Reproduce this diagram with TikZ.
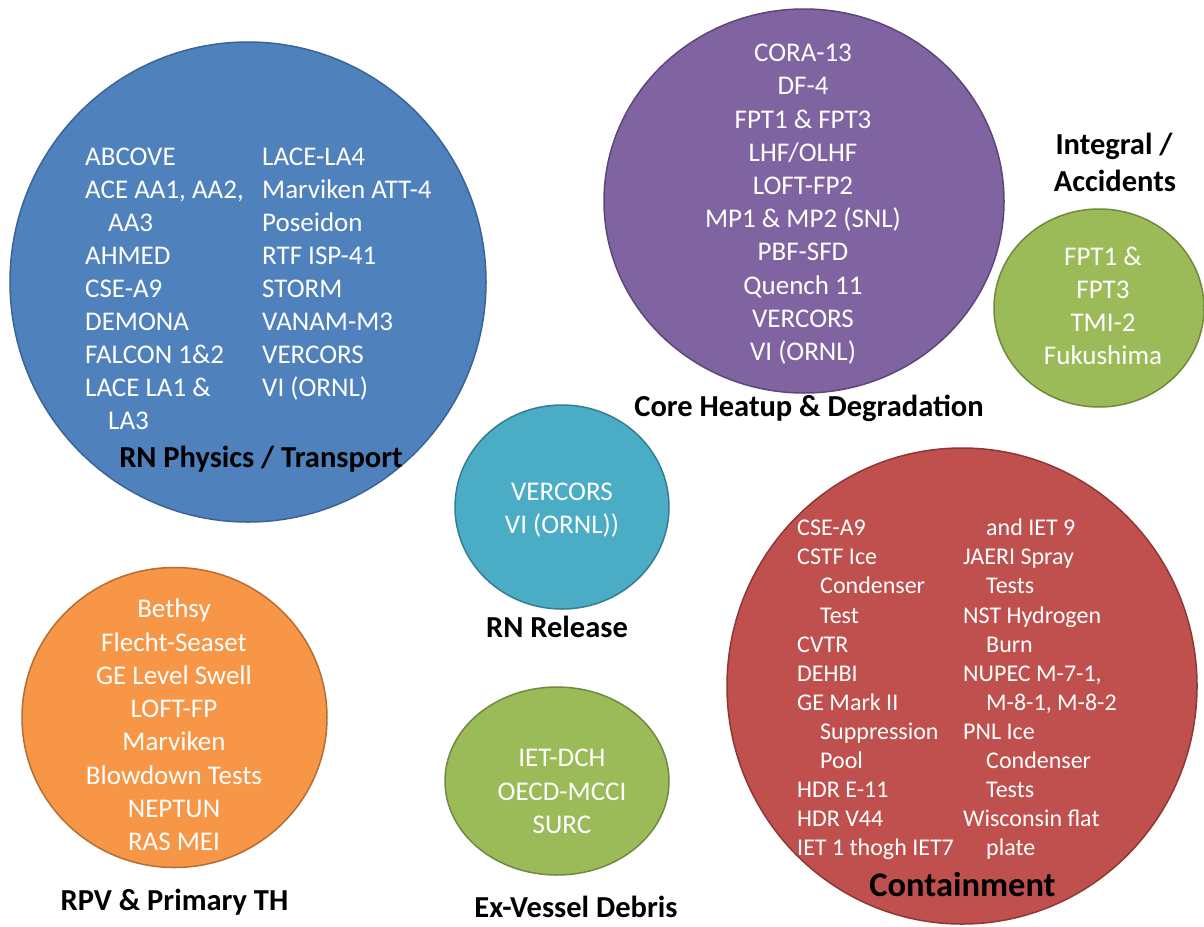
\documentclass[tikz,border=0pt]{standalone}
\usepackage{fontspec}
\setmainfont{Carlito}
\definecolor{blueC}{HTML}{4F81BD}\definecolor{blueB}{HTML}{3A6496}
\definecolor{purpC}{HTML}{8064A2}\definecolor{purpB}{HTML}{5C4776}
\definecolor{grnC}{HTML}{9BBB59}\definecolor{grnB}{HTML}{71893F}
\definecolor{cyanC}{HTML}{4BACC6}\definecolor{cyanB}{HTML}{357D91}
\definecolor{redC}{HTML}{C0504D}\definecolor{redB}{HTML}{8C3836}
\definecolor{orgC}{HTML}{F79646}\definecolor{orgB}{HTML}{B66D31}
\tikzset{
  wt/.style={text=white, inner sep=0pt, font=\fontsize{27}{33}\selectfont, text height=17.4pt, text depth=0pt},
  ws/.style={text=white, inner sep=0pt, font=\fontsize{24}{29}\selectfont, text height=15.5pt, text depth=0pt},
  lab/.style={text=black, inner sep=0pt, font=\bfseries\fontsize{30.5}{36}\selectfont, text height=19.6pt, text depth=0pt},
  bub/.style={line width=1.5pt}
}
\begin{document}
\begin{tikzpicture}[x=1pt,y=-1pt]
\useasboundingbox (0,0) rectangle (1204,926);
\fill[white] (0,0) rectangle (1204,926);
% circles
\draw[bub, fill=blueC, draw=blueB] (248,282) ellipse [x radius=238, y radius=240];
\draw[bub, fill=purpC, draw=purpB] (804,201) ellipse [x radius=200, y radius=192];
\draw[bub, fill=grnC, draw=grnB] (1099,308) ellipse [x radius=105, y radius=99];
\draw[bub, fill=cyanC, draw=cyanB] (562,507) ellipse [x radius=107, y radius=102];
\draw[bub, fill=grnC, draw=grnB] (557,781) ellipse [x radius=112, y radius=94];
\draw[bub, fill=redC, draw=redB] (962,686) ellipse [x radius=235, y radius=238];
\draw[bub, fill=orgC, draw=orgB] (174.5,717.5) ellipse [x radius=152.5, y radius=150];
% blue texts
\foreach \t/\xx [count=\i from 0] in {ABCOVE/85, {ACE AA1, AA2,}/85, AA3/108, AHMED/85, CSE-A9/85, DEMONA/85, FALCON 1\&2/85, LACE LA1 \&/85, LA3/108}
  \node[wt, anchor=west] (bl\i) at (\xx,157+33*\i) {\t};
\foreach \t [count=\i from 0] in {LACE-LA4, Marviken ATT-4, Poseidon, RTF ISP-41, STORM, VANAM-M3, VERCORS, VI (ORNL)}
  \node[wt, anchor=west] (br\i) at (262,157+33*\i) {\t};
\node[lab] (lblue) at (261,458) {RN Physics / Transport};
% purple
\foreach \t [count=\i from 0] in {CORA-13, DF-4, FPT1 \& FPT3, LHF/OLHF, LOFT-FP2, MP1 \& MP2 (SNL), PBF-SFD, Quench 11, VERCORS, VI (ORNL)}
  \node[wt] (pu\i) at (803,53+33.2*\i) {\t};
\node[lab] (lpurp) at (809,407) {Core Heatup \& Degradation};
% integral
\node[lab] (lint1) at (1114,145) {Integral /};
\node[lab] (lint2) at (1115,182) {Accidents};
\foreach \t [count=\i from 0] in {FPT1 \&, FPT3, TMI-2, Fukushima}
  \node[wt] (ia\i) at (1103,257+33*\i) {\t};
% cyan
\node[wt] (cy0) at (562,492) {VERCORS};
\node[wt] (cy1) at (562,525) {VI (ORNL))};
\node[lab] (lcyan) at (557,628) {RN Release};
% orange
\foreach \t [count=\i from 0] in {Bethsy, Flecht-Seaset, GE Level Swell, LOFT-FP, Marviken, Blowdown Tests, NEPTUN, RAS MEI}
  \node[wt] (or\i) at (174,609+33.3*\i) {\t};
\node[lab] (lorg) at (174.5,901) {RPV \& Primary TH};
% ex-vessel
\node[wt] (ev0) at (562,758) {IET-DCH};
\node[wt] (ev1) at (562,792) {OECD-MCCI};
\node[wt] (ev2) at (562,825) {SURC};
\node[lab] (lev) at (576,908) {Ex-Vessel Debris};
% red
\foreach \t/\xx [count=\i from 0] in {CSE-A9/797, CSTF Ice/797, Condenser/820, Test/820, CVTR/797, DEHBI/797, GE Mark II/797, Suppression/820, Pool/820, HDR E-11/797, HDR V44/797, IET 1 thogh IET7/797}
  \node[ws, anchor=west] (rl\i) at (\xx,528+29.1*\i) {\t};
\foreach \t/\xx [count=\i from 0] in {and IET 9/986, JAERI Spray/963, Tests/986, NST Hydrogen/963, Burn/986, {NUPEC M-7-1,}/963, {M-8-1, M-8-2}/986, PNL Ice/963, Condenser/986, Tests/986, Wisconsin flat/963, plate/986}
  \node[ws, anchor=west] (rr\i) at (\xx,528+29.1*\i) {\t};
\node[lab, font=\bfseries\fontsize{34.5}{40}\selectfont, text height=22.2pt] (lred) at (962.5,885) {Containment};
\end{tikzpicture}
\end{document}
